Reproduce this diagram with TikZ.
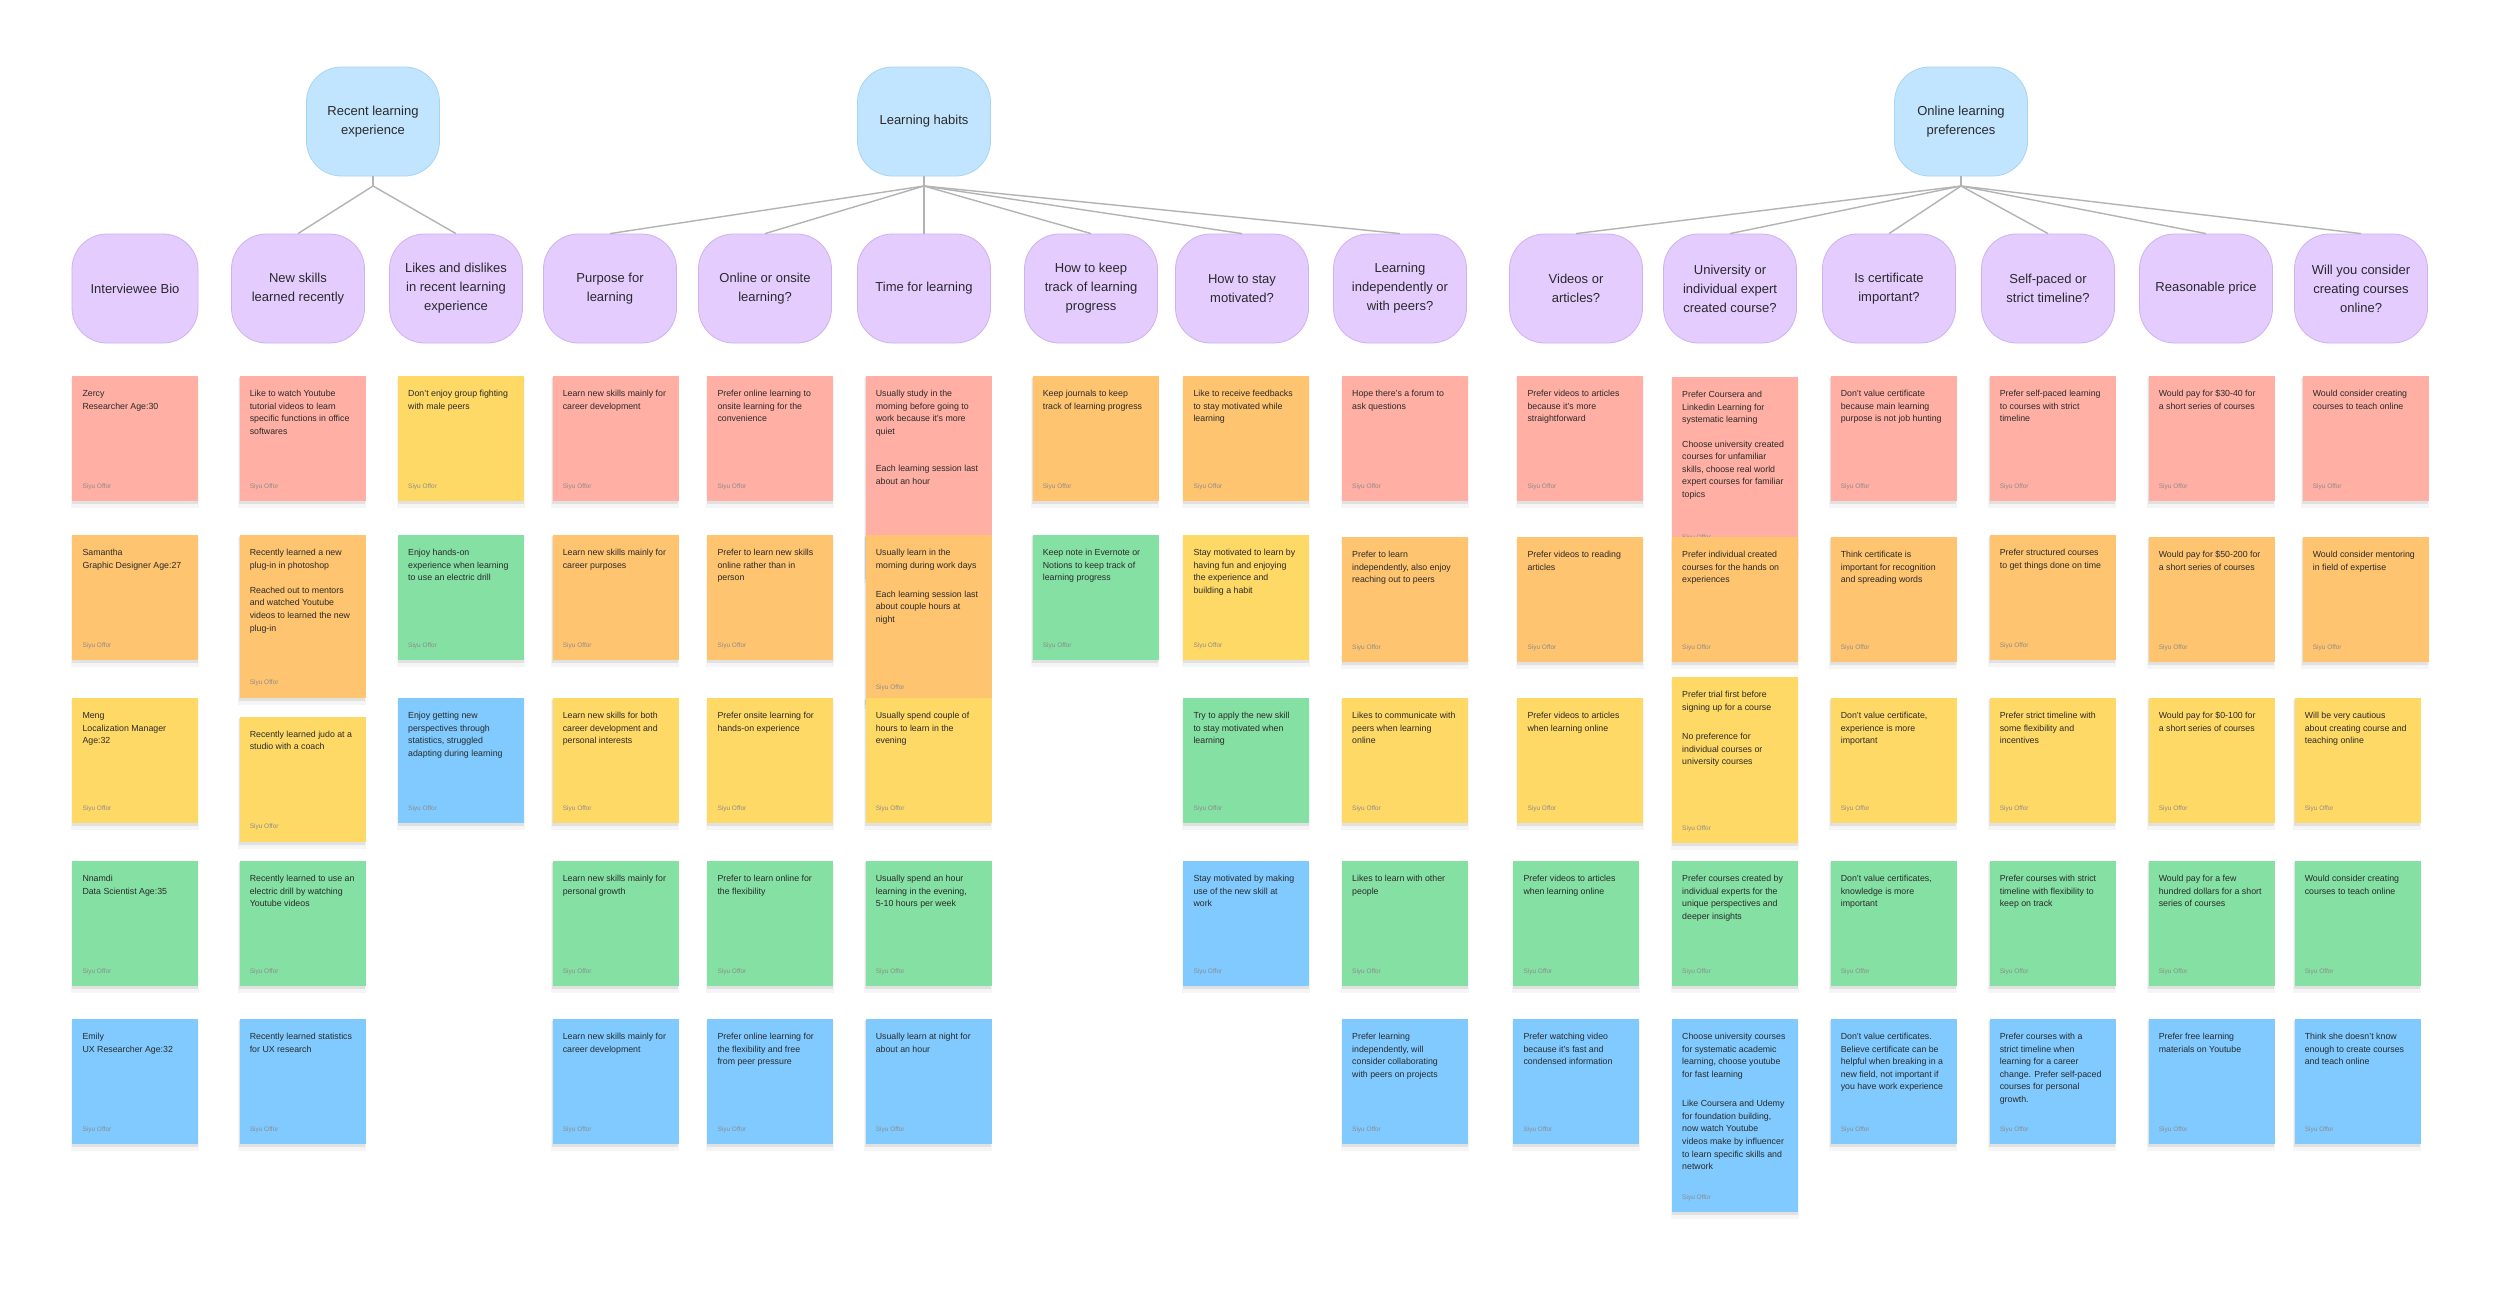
\documentclass[tikz,border=0pt]{standalone}
\usepackage{fontspec}
\setmainfont{Liberation Sans}
\definecolor{spink}{HTML}{FFAFA3}
\definecolor{sorange}{HTML}{FFC470}
\definecolor{syellow}{HTML}{FFD966}
\definecolor{sgreen}{HTML}{85E0A3}
\definecolor{sblue}{HTML}{80CAFF}
\definecolor{hpurple}{HTML}{E4CCFF}
\definecolor{hpurpleline}{HTML}{CDB2EE}
\definecolor{hblue}{HTML}{C2E5FF}
\definecolor{hblueline}{HTML}{A9D3F2}
\definecolor{conn}{HTML}{B3B3B3}
\definecolor{stxt}{HTML}{2A2A2A}
\definecolor{sauth}{HTML}{8C8C8C}
\tikzset{
  hdr/.style={rectangle, rounded corners=35pt, minimum width=133pt, minimum height=109pt, inner sep=0pt, align=center, font=\fontsize{13}{19}\selectfont, text=stxt},
  cat/.style={hdr, fill=hpurple, draw=hpurpleline, line width=0.8pt},
  topic/.style={hdr, fill=hblue, draw=hblueline, line width=0.8pt},
  link/.style={draw=conn, line width=1.4pt},
  stickybox/.style={rectangle, anchor=north west, inner sep=0pt, minimum width=126pt, draw=none},
  stickytext/.style={anchor=north west, inner sep=0pt, align=left, font=\fontsize{8.8}{12.6}\selectfont, text=stxt},
  author/.style={anchor=west, inner sep=0pt, font=\fontsize{6.5}{8}\selectfont, text=sauth},
}
% name, x, y, height, colour, text
\newcommand\stk[6]{%
  \fill[black, opacity=0.04] (#2-1,#3+2) rectangle ++(128,#4+5);
  \fill[black, opacity=0.08] (#2,#3+1) rectangle ++(126,#4+2);
  \node[stickybox, fill=#5, minimum height=#4pt] (#1) at (#2,#3) {};
  \node[stickytext] (#1t) at ([xshift=10.3pt, yshift=-11.5pt]#1.north west) {\strut #6};
  \node[author] (#1a) at ([xshift=10.3pt, yshift=15pt]#1.south west) {Siyu Offor};
}
\begin{document}
\begin{tikzpicture}[x=1pt, y=-1pt]
\useasboundingbox[fill=white] (0,0) rectangle (2500,1288);

% top level topics
\node[topic] (rle) at (373,121.5) {Recent learning\\experience};
\node[topic] (lh) at (924,121.5) {Learning habits};
\node[topic] (olp) at (1961,121.5) {Online learning\\preferences};

% categories
\node[cat, minimum width=126pt] (bio) at (135,288.5) {Interviewee Bio};
\node[cat] (ns) at (298,288.5) {New skills\\learned recently};
\node[cat] (ld) at (456,288.5) {Likes and dislikes\\in recent learning\\experience};
\node[cat] (pf) at (610,288.5) {Purpose for\\learning};
\node[cat] (oo) at (765,288.5) {Online or onsite\\learning?};
\node[cat] (tl) at (924,288.5) {Time for learning};
\node[cat] (tk) at (1091,288.5) {How to keep\\track of learning\\progress};
\node[cat] (mo) at (1242,288.5) {How to stay\\motivated?};
\node[cat] (ip) at (1400,288.5) {Learning\\independently or\\with peers?};
\node[cat] (va) at (1576,288.5) {Videos or\\articles?};
\node[cat] (ue) at (1730,288.5) {University or\\individual expert\\created course?};
\node[cat] (ci) at (1889,288.5) {Is certificate\\important?};
\node[cat] (sp) at (2048,288.5) {Self-paced or\\strict timeline?};
\node[cat] (rp) at (2206,288.5) {Reasonable price};
\node[cat] (cc) at (2361,288.5) {Will you consider\\creating courses\\online?};

% connectors
\coordinate (j1) at (373,186);
\coordinate (j2) at (924,186);
\coordinate (j3) at (1961,186);
\draw[link] (rle.south) -- (j1);
\draw[link] (lh.south) -- (j2);
\draw[link] (olp.south) -- (j3);
\foreach \c in {ns,ld} \draw[link] (j1) -- (\c.north);
\foreach \c in {pf,oo,tl,tk,mo,ip} \draw[link] (j2) -- (\c.north);
\foreach \c in {va,ue,ci,sp,rp,cc} \draw[link] (j3) -- (\c.north);

% column 1: interviewee bio
\stk{a1}{72}{376}{125}{spink}{Zercy\\Researcher Age:30}
\stk{a2}{72}{535}{125}{sorange}{Samantha\\Graphic Designer Age:27}
\stk{a3}{72}{698}{125}{syellow}{Meng\\Localization Manager\\Age:32}
\stk{a4}{72}{861}{125}{sgreen}{Nnamdi\\Data Scientist Age:35}
\stk{a5}{72}{1019}{125}{sblue}{Emily\\UX Researcher Age:32}

% column 2: new skills
\stk{b1}{239.3}{376}{125}{spink}{Like to watch Youtube\\tutorial videos to learn\\specific functions in office\\softwares}
\stk{b2}{239.3}{535}{162.5}{sorange}{Recently learned a new\\plug-in in photoshop\\[12.5pt]Reached out to mentors\\and watched Youtube\\videos to learned the new\\plug-in}
\stk{b3}{239.3}{716.7}{125}{syellow}{Recently learned judo at a\\studio with a coach}
\stk{b4}{239.3}{861}{125}{sgreen}{Recently learned to use an\\electric drill by watching\\Youtube videos}
\stk{b5}{239.3}{1019}{125}{sblue}{Recently learned statistics\\for UX research}

% column 3: likes and dislikes
\stk{c1}{397.7}{376}{125}{syellow}{Don’t enjoy group fighting\\with male peers}
\stk{c2}{397.7}{535}{125}{sgreen}{Enjoy hands-on\\experience when learning\\to use an electric drill}
\stk{c3}{397.7}{698}{125}{sblue}{Enjoy getting new\\perspectives through\\statistics, struggled\\adapting during learning}

% column 4: purpose
\stk{d1}{552.3}{376}{125}{spink}{Learn new skills mainly for\\career development}
\stk{d2}{552.3}{535}{125}{sorange}{Learn new skills mainly for\\career purposes}
\stk{d3}{552.3}{698}{125}{syellow}{Learn new skills for both\\career development and\\personal interests}
\stk{d4}{552.3}{861}{125}{sgreen}{Learn new skills mainly for\\personal growth}
\stk{d5}{552.3}{1019}{125}{sblue}{Learn new skills mainly for\\career development}

% column 5: online or onsite
\stk{e1}{707}{376}{125}{spink}{Prefer online learning to\\onsite learning for the\\convenience}
\stk{e2}{707}{535}{125}{sorange}{Prefer to learn new skills\\online rather than in\\person}
\stk{e3}{707}{698}{125}{syellow}{Prefer onsite learning for\\hands-on experience}
\stk{e4}{707}{861}{125}{sgreen}{Prefer to learn online for\\the flexibility}
\stk{e5}{707}{1019}{125}{sblue}{Prefer online learning for\\the flexibility and free\\from peer pressure}

% column 6: time
\stk{f1}{865.3}{376}{200}{spink}{Usually study in the\\morning before going to\\work because it’s more\\quiet\\[25pt]Each learning session last\\about an hour}
\stk{f2}{865.3}{535}{167}{sorange}{Usually learn in the\\morning during work days\\[16.5pt]Each learning session last\\about couple hours at\\night}
\stk{f3}{865.3}{698}{125}{syellow}{Usually spend couple of\\hours to learn in the\\evening}
\stk{f4}{865.3}{861}{125}{sgreen}{Usually spend an hour\\learning in the evening,\\5-10 hours per week}
\stk{f5}{865.3}{1019}{125}{sblue}{Usually learn at night for\\about an hour}

% column 7: track
\stk{g1}{1032.3}{376}{125}{sorange}{Keep journals to keep\\track of learning progress}
\stk{g2}{1032.3}{535}{125}{sgreen}{Keep note in Evernote or\\Notions to keep track of\\learning progress}

% column 8: motivated
\stk{h1}{1183}{376}{125}{sorange}{Like to receive feedbacks\\to stay motivated while\\learning}
\stk{h2}{1183}{535}{125}{syellow}{Stay motivated to learn by\\having fun and enjoying\\the experience and\\building a habit}
\stk{h3}{1183}{698}{125}{sgreen}{Try to apply the new skill\\to stay motivated when\\learning}
\stk{h4}{1183}{861}{125}{sblue}{Stay motivated by making\\use of the new skill at\\work}

% column 9: independently or with peers
\stk{i1}{1341.7}{376}{125}{spink}{Hope there’s a forum to\\ask questions}
\stk{i2}{1341.7}{537}{125}{sorange}{Prefer to learn\\independently, also enjoy\\reaching out to peers}
\stk{i3}{1341.7}{698}{125}{syellow}{Likes to communicate with\\peers when learning\\online}
\stk{i4}{1341.7}{861}{125}{sgreen}{Likes to learn with other\\people}
\stk{i5}{1341.7}{1019}{125}{sblue}{Prefer learning\\independently, will\\consider collaborating\\with peers on projects}

% column 10: videos or articles
\stk{k1}{1517}{376}{125}{spink}{Prefer videos to articles\\because it’s more\\straightforward}
\stk{k2}{1517}{537}{125}{sorange}{Prefer videos to reading\\articles}
\stk{k3}{1517}{698}{125}{syellow}{Prefer videos to articles\\when learning online}
\stk{k4}{1513}{861}{125}{sgreen}{Prefer videos to articles\\when learning online}
\stk{k5}{1513}{1019}{125}{sblue}{Prefer watching video\\because it’s fast and\\condensed information}

% column 11: university or expert
\stk{l1}{1671.7}{377}{175}{spink}{Prefer Coursera and\\Linkedin Learning for\\systematic learning\\[11.7pt]Choose university created\\courses for unfamiliar\\skills, choose real world\\expert courses for familiar\\topics}
\stk{l2}{1671.7}{537}{125}{sorange}{Prefer individual created\\courses for the hands on\\experiences}
\stk{l3}{1671.7}{677}{166}{syellow}{Prefer trial first before\\signing up for a course\\[16.7pt]No preference for\\individual courses or\\university courses}
\stk{l4}{1671.7}{861}{125}{sgreen}{Prefer courses created by\\individual experts for the\\unique perspectives and\\deeper insights}
\stk{l5}{1671.7}{1019}{193}{sblue}{Choose university courses\\for systematic academic\\learning, choose youtube\\for fast learning\\[16.7pt]Like Coursera and Udemy\\for foundation building,\\now watch Youtube\\videos make by influencer\\to learn specific skills and\\network}

% column 12: certificate
\stk{m1}{1830.3}{376}{125}{spink}{Don’t value certificate\\because main learning\\purpose is not job hunting}
\stk{m2}{1830.3}{537}{125}{sorange}{Think certificate is\\important for recognition\\and spreading words}
\stk{m3}{1830.3}{698}{125}{syellow}{Don’t value certificate,\\experience is more\\important}
\stk{m4}{1830.3}{861}{125}{sgreen}{Don’t value certificates,\\knowledge is more\\important}
\stk{m5}{1830.3}{1019}{125}{sblue}{Don’t value certificates.\\Believe certificate can be\\helpful when breaking in a\\new field, not important if\\you have work experience}

% column 13: self-paced
\stk{n1}{1989.3}{376}{125}{spink}{Prefer self-paced learning\\to courses with strict\\timeline}
\stk{n2}{1989.3}{535}{125}{sorange}{Prefer structured courses\\to get things done on time}
\stk{n3}{1989.3}{698}{125}{syellow}{Prefer strict timeline with\\some flexibility and\\incentives}
\stk{n4}{1989.3}{861}{125}{sgreen}{Prefer courses with strict\\timeline with flexibility to\\keep on track}
\stk{n5}{1989.3}{1019}{125}{sblue}{Prefer courses with a\\strict timeline when\\learning for a career\\change. Prefer self-paced\\courses for personal\\growth.}

% column 14: price
\stk{p1}{2148.3}{376}{125}{spink}{Would pay for \$30-40 for\\a short series of courses}
\stk{p2}{2148.3}{537}{125}{sorange}{Would pay for \$50-200 for\\a short series of courses}
\stk{p3}{2148.3}{698}{125}{syellow}{Would pay for \$0-100 for\\a short series of courses}
\stk{p4}{2148.3}{861}{125}{sgreen}{Would pay for a few\\hundred dollars for a short\\series of courses}
\stk{p5}{2148.3}{1019}{125}{sblue}{Prefer free learning\\materials on Youtube}

% column 15: creating courses
\stk{q1}{2302.3}{376}{125}{spink}{Would consider creating\\courses to teach online}
\stk{q2}{2302.3}{537}{125}{sorange}{Would consider mentoring\\in field of expertise}
\stk{q3}{2294.3}{698}{125}{syellow}{Will be very cautious\\about creating course and\\teaching online}
\stk{q4}{2294.3}{861}{125}{sgreen}{Would consider creating\\courses to teach online}
\stk{q5}{2294.3}{1019}{125}{sblue}{Think she doesn’t know\\enough to create courses\\and teach online}
\end{tikzpicture}
\end{document}
